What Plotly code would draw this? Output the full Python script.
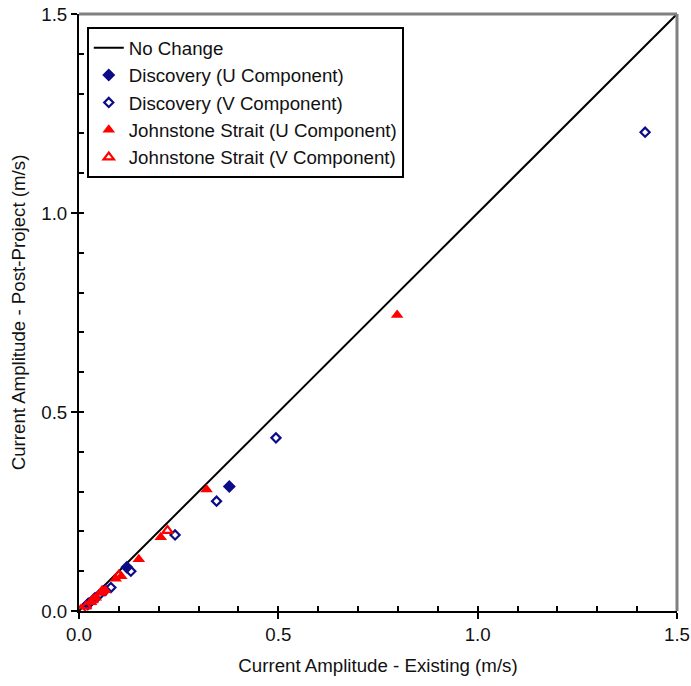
import plotly.graph_objects as go

# Data (m/s): existing vs post-project current amplitude
no_change_x = [0.0, 1.5]
no_change_y = [0.0, 1.5]

disc_u_x = [0.377, 0.120, 0.065, 0.040, 0.022]
disc_u_y = [0.313, 0.110, 0.052, 0.032, 0.017]

disc_v_x = [1.420, 0.494, 0.345, 0.241, 0.130, 0.080, 0.050, 0.025]
disc_v_y = [1.203, 0.435, 0.276, 0.191, 0.100, 0.059, 0.040, 0.020]

john_u_x = [0.798, 0.320, 0.205, 0.150, 0.106, 0.092, 0.066, 0.055, 0.042, 0.030]
john_u_y = [0.744, 0.305, 0.185, 0.130, 0.087, 0.081, 0.052, 0.045, 0.033, 0.022]

john_v_x = [0.222, 0.100, 0.058, 0.035, 0.018, 0.005]
john_v_y = [0.202, 0.090, 0.050, 0.028, 0.012, 0.003]

tick_vals = [0.0, 0.5, 1.0, 1.5]
tick_text = ["0.0", "0.5", "1.0", "1.5"]

NAVY = "#0c0c88"
RED = "#ff0000"
FONT = "Liberation Sans, Arial, sans-serif"
FS = 18.7
TXT = "#111111"

fig = go.Figure()
fig.add_trace(go.Scatter(x=no_change_x, y=no_change_y, mode="lines",
                         line=dict(color="black", width=2), name="No Change"))
fig.add_trace(go.Scatter(x=disc_u_x, y=disc_u_y, mode="markers", name="Discovery (U Component)",
                         marker=dict(symbol="diamond", size=10, color=NAVY, line=dict(width=0))))
fig.add_trace(go.Scatter(x=disc_v_x, y=disc_v_y, mode="markers", name="Discovery (V Component)",
                         marker=dict(symbol="diamond-open", size=7, color=NAVY, line=dict(width=2.2))))
fig.add_trace(go.Scatter(x=john_u_x, y=john_u_y, mode="markers", name="Johnstone Strait (U Component)",
                         marker=dict(symbol="triangle-up", size=11, color=RED, line=dict(width=0))))
fig.add_trace(go.Scatter(x=john_v_x, y=john_v_y, mode="markers", name="Johnstone Strait (V Component)",
                         marker=dict(symbol="triangle-up-open", size=9, color=RED, line=dict(width=2.2))))

axis_common = dict(range=[0, 1.5], showgrid=False, zeroline=False, showline=True,
                   linecolor="black", linewidth=2, ticks="outside", ticklen=6,
                   tickwidth=2, tickcolor="black", tickvals=tick_vals, ticktext=tick_text,
                   automargin=False,
                   tickfont=dict(family=FONT, size=FS, color=TXT))

fig.update_layout(
    width=691, height=686,
    margin=dict(l=79, r=14, t=14, b=75),
    paper_bgcolor="white", plot_bgcolor="white",
    font=dict(family=FONT, size=FS, color=TXT),
    xaxis=dict(**axis_common,
               title=dict(text="Current Amplitude - Existing (m/s)", font=dict(family=FONT, size=FS, color=TXT), standoff=14)),
    yaxis=dict(**axis_common,
               title=dict(text="Current Amplitude - Post-Project (m/s)", font=dict(family=FONT, size=FS, color=TXT), standoff=11)),
    xaxis2=dict(range=[0, 1.5], overlaying="x", side="bottom", anchor="y", showgrid=False,
                zeroline=False, showline=False, ticks="inside", ticklen=5, tickwidth=2,
                tickcolor="black", dtick=0.1, tick0=0, showticklabels=False, automargin=False),
    yaxis2=dict(range=[0, 1.5], overlaying="y", side="left", anchor="x", showgrid=False,
                zeroline=False, showline=False, ticks="inside", ticklen=5, tickwidth=2,
                tickcolor="black", dtick=0.1, tick0=0, showticklabels=False, automargin=False),
    legend=dict(x=0.013, y=0.978, xanchor="left", yanchor="top",
                bgcolor="white", bordercolor="black", borderwidth=2,
                font=dict(family=FONT, size=FS, color=TXT),
                itemwidth=30),
    showlegend=True,
    shapes=[
        dict(type="line", xref="paper", yref="paper", x0=0, x1=1, y0=1, y1=1,
             line=dict(color="#808080", width=3)),
        dict(type="line", xref="paper", yref="paper", x0=1, x1=1, y0=0, y1=1,
             line=dict(color="#808080", width=3)),
    ],
)

# invisible trace to activate the overlay axes for inside ticks
fig.add_trace(go.Scatter(x=[0], y=[0], xaxis="x2", yaxis="y2", mode="markers",
                         marker=dict(opacity=0), showlegend=False, hoverinfo="skip"))

fig.write_html("out.html")
